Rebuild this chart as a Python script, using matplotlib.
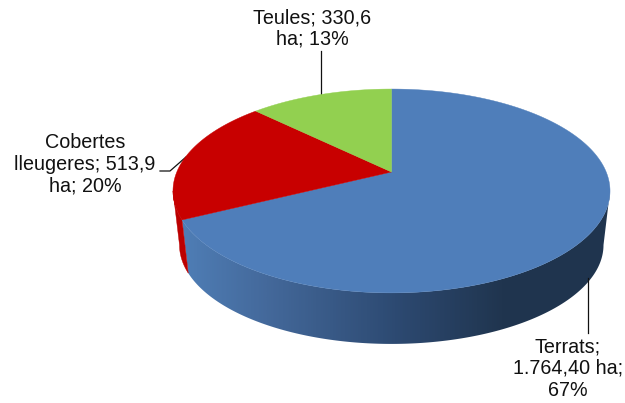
import matplotlib
matplotlib.use('Agg')
import matplotlib.pyplot as plt
import numpy as np
from matplotlib.colors import LinearSegmentedColormap
from matplotlib.patches import Polygon

plt.rcParams['font.family'] = ['Liberation Sans', 'DejaVu Sans']

# Data
categories = ['Terrats', 'Cobertes lleugeres', 'Teules']
areas = [1764.40, 513.9, 330.6]  # ha
labels = ['Terrats;\n1.764,40 ha;\n67%', 'Cobertes\nlleugeres; 513,9\nha; 20%', 'Teules; 330,6\nha; 13%']
colors = ['#4F7EBA', '#C80000', '#92D050']

# Fake 3D view, pixels of the picture
CX = 391.5
PERSP = 0.186
TOP = (214.7, 98.4, 172.0)     # half width, half height, apex y
BOTTOM = (208.3, 95.5, 226.6)


def project(theta, face):
    # theta is clockwise from 12 o'clock, radians
    a, b, y0 = face
    d = 1 + PERSP * np.cos(theta)
    return CX + a * np.sin(theta) / d, y0 - b * np.cos(theta) / d


def wall(t0, t1):
    th = np.linspace(t0, t1, 200)
    xt, yt = project(th, TOP)
    xb, yb = project(th[::-1], BOTTOM)
    return list(zip(xt, yt)) + list(zip(xb, yb))


fig = plt.figure(figsize=(6.25, 4.03), dpi=100)
ax = fig.add_axes([0, 0, 1, 1])
ax.axis('off')

edges = np.concatenate([[0], np.cumsum(areas)]) / sum(areas) * 2 * np.pi
# where the outline of the disc turns away from the viewer
right_end = np.arccos(-PERSP)
left_end = 2 * np.pi - right_end

# side wall, blue slice has a shaded gradient
blue_side = LinearSegmentedColormap.from_list('side', [(0, '#4F7EB6'), (0.2, '#44699B'), (0.5, '#2D4A72'),
                                                       (0.75, '#20354F'), (1, '#1F344E')])
blue_wall = Polygon(wall(right_end, edges[1]), closed=True, fc='none', ec='none', transform=ax.transData)
ax.add_patch(blue_wall)
im = ax.imshow(np.linspace(0, 1, 430).reshape(1, -1), cmap=blue_side, extent=(180, 610, 350, 180), aspect='auto',
               interpolation='bilinear', zorder=2)
im.set_clip_path(blue_wall)
ax.add_patch(Polygon(wall(edges[1], left_end), closed=True, fc='#BC0000', ec='#BC0000', lw=0.3, zorder=2))

# top face
for i in range(len(areas)):
    th = np.linspace(edges[i], edges[i + 1], 300)
    xs, ys = project(th, TOP)
    pts = [(CX, TOP[2])] + list(zip(xs, ys))
    ax.add_patch(Polygon(pts, closed=True, fc=colors[i], ec=colors[i], lw=0.3, zorder=3))

# leader lines
ax.plot([588, 588], [278, 333], color='#111111', lw=0.9, zorder=4)
ax.plot([160, 170, 186], [171, 171, 157], color='#111111', lw=0.9, zorder=1)
ax.plot([321, 321], [51, 96], color='#111111', lw=0.9, zorder=1)

# labels
ax.text(568, 368.5, labels[0], ha='center', va='center', fontsize=14.2, color='#111111', linespacing=1.17)
ax.text(85, 164.5, labels[1], ha='center', va='center', fontsize=14.2, color='#111111', linespacing=1.17)
ax.text(312, 28.5, labels[2], ha='center', va='center', fontsize=14.2, color='#111111', linespacing=1.17)

ax.set_xlim(0, 625)
ax.set_ylim(403, 0)

fig.savefig('out.png', dpi=100)
